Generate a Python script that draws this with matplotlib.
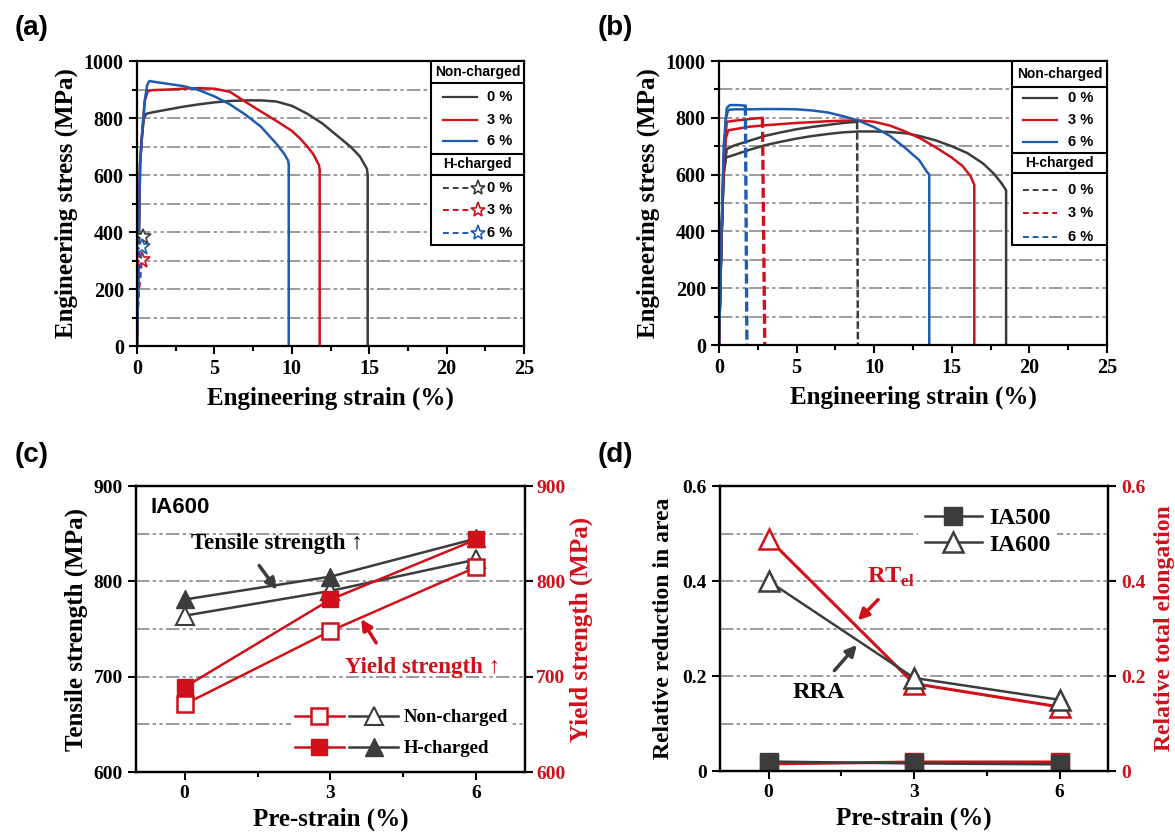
import matplotlib
matplotlib.use("Agg")
import matplotlib.pyplot as plt
from matplotlib.patches import Rectangle
from matplotlib.legend_handler import HandlerTuple
from matplotlib.ticker import MultipleLocator

# ---------------- data ----------------
# (a) stress-strain curves, non-charged
a_nc0_strain = [0, 0.2, 0.32, 0.45, 0.6, 1.0, 2, 3, 4, 5, 6, 7, 8, 9, 10, 11, 12, 13, 13.8, 14.4, 14.85, 14.9, 14.9]
a_nc0_stress = [0, 640, 735, 800, 815, 820, 830, 840, 848, 855, 860, 862, 862, 858, 843, 815, 780, 735, 699, 665, 622, 600, 0]
a_nc3_strain = [0, 0.2, 0.35, 0.5, 0.7, 1, 2, 3, 4, 5, 6, 7, 8, 9, 10, 10.5, 11, 11.4, 11.75, 11.8, 11.8]
a_nc3_stress = [0, 640, 760, 860, 895, 898, 900, 903, 905, 903, 892, 857, 823, 790, 755, 730, 700, 672, 635, 620, 0]
a_nc6_strain = [0, 0.2, 0.35, 0.5, 0.65, 0.8, 1.0, 2, 3, 4, 5, 6, 7, 8, 9, 9.5, 9.75, 9.8, 9.8]
a_nc6_stress = [0, 640, 760, 860, 915, 930, 928, 920, 912, 898, 876, 848, 812, 770, 710, 675, 652, 640, 0]
# (a) H-charged (fracture marked by star)
a_h_strain = [[0, 0.1, 0.4], [0, 0.1, 0.32], [0, 0.1, 0.32]]
a_h_stress = [[0, 200, 383], [0, 170, 301], [0, 190, 348]]

# (b) stress-strain curves, non-charged
b_nc0_strain = [0, 0.15, 0.3, 0.45, 1, 2, 3, 4, 5, 6, 7, 8, 9, 10, 11, 12, 13, 14, 15, 16, 17, 17.7, 18.2, 18.5, 18.5]
b_nc0_stress = [0, 350, 600, 660, 670, 688, 704, 716, 727, 736, 743, 749, 752, 752, 750, 746, 735, 720, 700, 676, 640, 604, 570, 545, 0]
b_nc3_strain = [0, 0.15, 0.3, 0.45, 0.6, 1, 2, 3, 4, 5, 6, 7, 8, 9, 10, 11, 12, 13, 14, 15, 15.7, 16.2, 16.45, 16.45]
b_nc3_stress = [0, 350, 620, 730, 756, 760, 769, 774, 778, 782, 785, 788, 790, 791, 786, 773, 752, 727, 695, 660, 630, 595, 565, 0]
b_nc6_strain = [0, 0.15, 0.3, 0.45, 0.6, 1, 2, 3, 4, 5, 6, 7, 8, 9, 10, 11, 12, 12.9, 13.4, 13.55, 13.55]
b_nc6_stress = [0, 350, 650, 800, 828, 830, 830, 831, 831, 830, 826, 819, 806, 790, 767, 737, 694, 651, 610, 600, 0]
# (b) H-charged
b_h0_strain = [0, 0.15, 0.3, 0.5, 1, 2, 3, 4, 5, 6, 7, 8, 8.9, 8.95]
b_h0_stress = [0, 350, 600, 690, 703, 720, 737, 749, 760, 768, 775, 782, 786, 0]
b_h3_strain = [0, 0.15, 0.3, 0.5, 1, 2, 2.8, 2.95]
b_h3_stress = [0, 350, 650, 786, 790, 796, 800, 0]
b_h6_strain = [0, 0.15, 0.3, 0.5, 0.7, 1.2, 1.7, 1.8]
b_h6_stress = [0, 350, 700, 835, 845, 845, 843, 0]

# (c) strengths of IA600 vs pre-strain
pre_strain = [0, 3, 6]
ts_non = [764, 790, 823]
ts_h = [781, 805, 845]
ys_non = [671, 748, 815]
ys_h = [689, 781, 844]

# (d) relative reductions
rra_ia500 = [0.02, 0.016, 0.014]
rra_ia600 = [0.40, 0.196, 0.150]
rtel_ia500 = [0.015, 0.019, 0.019]
rtel_ia600 = [0.489, 0.184, 0.135]

BLACK = "#3c3c3c"
RED = "#d0101a"
BLUE = "#1f5bb0"
GRID = "#8a8a8a"
GRID_LS = (0, (8, 2, 2, 2, 2, 2))
SANS = ["Liberation Sans", "DejaVu Sans"]

plt.rcParams["font.family"] = ["Liberation Serif", "DejaVu Serif"]
plt.rcParams["font.weight"] = "bold"
plt.rcParams["axes.labelweight"] = "bold"
plt.rcParams["mathtext.fontset"] = "custom"
plt.rcParams["mathtext.bf"] = "Liberation Serif:bold"
plt.rcParams["mathtext.rm"] = "Liberation Serif:bold"


def stress_axes(ax):
    ax.set_xlim(0, 25)
    ax.set_ylim(0, 1000)
    ax.set_xticks(range(0, 26, 5))
    ax.xaxis.set_minor_locator(MultipleLocator(2.5))
    ax.set_yticks(range(0, 1001, 200))
    ax.yaxis.set_minor_locator(MultipleLocator(100))
    ax.grid(axis="y", which="both", color=GRID, lw=1.2, ls=GRID_LS)
    ax.set_axisbelow(True)
    ax.tick_params(which="major", length=6, width=1.5, labelsize=14.5)
    ax.tick_params(which="minor", length=3.5, width=1.5)
    for s in ax.spines.values():
        s.set_linewidth(1.6)
    ax.set_xlabel("Engineering strain (%)", fontsize=18, labelpad=5)
    ax.set_ylabel("Engineering stress (MPa)", fontsize=18, labelpad=4)


def box_legend(ax, x0, bottom, divs, rows, line_x, text_x, stars):
    # white box with two titled sections, like the Origin legend
    tr = ax.transAxes
    ax.add_patch(Rectangle((x0, bottom), 1 - x0, 1 - bottom, transform=tr,
                           facecolor="white", edgecolor="black", lw=1.5, zorder=5))
    for d in divs:
        ax.plot([x0, 1], [d, d], color="black", lw=1.5, transform=tr, zorder=6)
    cx = (x0 + 1) / 2
    ax.text(cx, (1 + divs[0]) / 2, "Non-charged", transform=tr, ha="center", va="center",
            family=SANS, fontsize=10, zorder=7)
    ax.text(cx, (divs[1] + divs[2]) / 2, "H-charged", transform=tr, ha="center", va="center",
            family=SANS, fontsize=10, zorder=7)
    colors = [BLACK, RED, BLUE]
    labels = ["0 %", "3 %", "6 %"]
    for i in range(3):
        ax.plot(line_x, [rows[i]] * 2, color=colors[i], lw=1.6, transform=tr, zorder=7)
        ax.text(text_x, rows[i], labels[i], transform=tr, va="center", family=SANS,
                fontsize=10.5, zorder=7)
        y = rows[i + 3]
        if stars:
            ax.plot([line_x[0], line_x[1] - 0.02], [y, y], color=colors[i], lw=1.4,
                    ls=(0, (3, 2)), transform=tr, zorder=7)
            ax.plot([line_x[1] + 0.003], [y], marker="*", ms=11, mfc="white",
                    mec=colors[i], mew=1.2, transform=tr, zorder=8)
        else:
            ax.plot(line_x, [y, y], color=colors[i], lw=1.4, ls=(0, (3, 2)),
                    transform=tr, zorder=7)
        ax.text(text_x, y, labels[i], transform=tr, va="center", family=SANS,
                fontsize=10.5, zorder=7)


fig = plt.figure(figsize=(11.75, 8.34), dpi=100)

# ---------- (a) ----------
ax_a = fig.add_axes([0.1166, 0.5851, 0.3294, 0.3417])
stress_axes(ax_a)
ax_a.plot(a_nc0_strain, a_nc0_stress, color=BLACK, lw=1.8)
ax_a.plot(a_nc3_strain, a_nc3_stress, color=RED, lw=1.8)
ax_a.plot(a_nc6_strain, a_nc6_stress, color=BLUE, lw=1.8)
for xs, ys, c in zip(a_h_strain, a_h_stress, [BLACK, RED, BLUE]):
    ax_a.plot(xs, ys, color=c, lw=1.4, ls=(0, (3, 2)), marker="*", markevery=[-1],
              ms=12, mfc="white", mec=c, mew=1.2)
box_legend(ax_a, 0.76, 0.354, [0.923, 0.674, 0.600],
           [0.875, 0.793, 0.72, 0.554, 0.477, 0.398], [0.79, 0.879], 0.905, True)

# ---------- (b) ----------
ax_b = fig.add_axes([0.6119, 0.5863, 0.3302, 0.3405])
stress_axes(ax_b)
ax_b.plot(b_nc0_strain, b_nc0_stress, color=BLACK, lw=1.8)
ax_b.plot(b_nc3_strain, b_nc3_stress, color=RED, lw=1.8)
ax_b.plot(b_nc6_strain, b_nc6_stress, color=BLUE, lw=1.8)
for xs, ys, c, w in [(b_h0_strain, b_h0_stress, BLACK, 1.8),
                     (b_h3_strain, b_h3_stress, RED, 2.4),
                     (b_h6_strain, b_h6_stress, BLUE, 2.4)]:
    ax_b.plot(xs[:-1], ys[:-1], color=c, lw=1.8)
    ax_b.plot(xs[-2:], ys[-2:], color=c, lw=w, ls=(0, (3, 1.2)))
box_legend(ax_b, 0.755, 0.352, [0.908, 0.676, 0.606],
           [0.871, 0.792, 0.714, 0.546, 0.464, 0.381], [0.784, 0.871], 0.90, False)

# ---------- (c) ----------
ax_c = fig.add_axes([0.1157, 0.0743, 0.3311, 0.3429])
ax_c.set_xlim(-1, 7)
ax_c.set_ylim(600, 900)
ax_c.set_xticks(pre_strain)
ax_c.set_xticks([1.5, 4.5], minor=True)
ax_c.set_yticks([600, 700, 800, 900])
ax_c.set_yticks([650, 750, 850], minor=True)
ax_c.grid(axis="y", which="both", color=GRID, lw=1.2, ls=GRID_LS)
ax_c.set_axisbelow(True)
ax_c.tick_params(which="major", length=6, width=1.5, labelsize=14)
ax_c.tick_params(axis="y", which="minor", length=0)
ax_c.tick_params(axis="x", which="minor", length=3.5, width=1.5)
ln_tn, = ax_c.plot(pre_strain, ts_non, color=BLACK, lw=1.8, marker="^", ms=13,
                   mfc="white", mec=BLACK, mew=1.5, zorder=3)
ln_th, = ax_c.plot(pre_strain, ts_h, color=BLACK, lw=1.8, marker="^", ms=13, zorder=3)
ln_yn, = ax_c.plot(pre_strain, ys_non, color=RED, lw=1.8, marker="s", ms=11,
                   mfc="white", mec=RED, mew=1.8, zorder=4)
ln_yh, = ax_c.plot(pre_strain, ys_h, color=RED, lw=1.8, marker="s", ms=11, zorder=4)
ax_c.text(-0.7, 877, "IA600", family=SANS, fontsize=16, va="center")
ax_c.text(1.9, 840, "Tensile strength \u2191", fontsize=16.5, ha="center", va="center")
ax_c.text(4.9, 710, "Yield strength \u2191", fontsize=16.5, ha="center", va="center", color=RED)
ax_c.annotate("", xy=(1.93, 789), xytext=(1.5, 819),
              arrowprops=dict(arrowstyle="-|>", color=BLACK, lw=2.5, mutation_scale=16))
ax_c.annotate("", xy=(3.6, 763), xytext=(3.97, 733),
              arrowprops=dict(arrowstyle="-|>", color=RED, lw=2.5, mutation_scale=16))
ax_c.legend([(ln_yn, ln_tn), (ln_yh, ln_th)], ["Non-charged", "H-charged"],
            handler_map={tuple: HandlerTuple(ndivide=None, pad=0.3)},
            loc="lower right", bbox_to_anchor=(0.99, 0.005), handlelength=5.5,
            frameon=True, edgecolor="none", framealpha=1, fontsize=13.5,
            borderpad=0.2, labelspacing=0.75, handletextpad=0.3)
for s in ax_c.spines.values():
    s.set_linewidth(1.6)
ax_c.set_xlabel("Pre-strain (%)", fontsize=18, labelpad=4)
ax_c.set_ylabel("Tensile strength (MPa)", fontsize=18, labelpad=4)
ax_c2 = ax_c.twinx()
ax_c2.set_ylim(600, 900)
ax_c2.set_yticks([600, 700, 800, 900])
ax_c2.tick_params(axis="y", length=6, width=1.5, labelsize=14, labelcolor=RED, pad=2)
ax_c2.set_ylabel("Yield strength (MPa)", fontsize=18, color=RED, labelpad=3)
for s in ax_c2.spines.values():
    s.set_linewidth(1.6)

# ---------- (d) ----------
ax_d = fig.add_axes([0.6128, 0.0755, 0.3302, 0.3417])
ax_d.set_xlim(-1, 7)
ax_d.set_ylim(0, 0.6)
ax_d.set_xticks(pre_strain)
ax_d.set_xticks([1.5, 4.5], minor=True)
ax_d.set_yticks([0, 0.2, 0.4, 0.6], ["0", "0.2", "0.4", "0.6"])
ax_d.set_yticks([0.1, 0.3, 0.5], minor=True)
ax_d.grid(axis="y", which="both", color=GRID, lw=1.2, ls=GRID_LS)
ax_d.set_axisbelow(True)
ax_d.tick_params(which="major", length=6, width=1.5, labelsize=14)
ax_d.tick_params(axis="y", which="minor", length=0)
ax_d.tick_params(axis="x", which="minor", length=3.5, width=1.5)
ax_d.plot(pre_strain, rtel_ia500, color=RED, lw=2.2, marker="s", ms=13, zorder=3)
ax_d.plot(pre_strain, rtel_ia600, color=RED, lw=2.2, marker="^", ms=14,
          mfc="white", mec=RED, mew=1.8, zorder=3)
ln_500, = ax_d.plot(pre_strain, rra_ia500, color=BLACK, lw=1.8, marker="s", ms=13, zorder=4)
ln_600, = ax_d.plot(pre_strain, rra_ia600, color=BLACK, lw=1.8, marker="^", ms=14,
                    mfc="white", mec=BLACK, mew=1.8, zorder=4)
ax_d.text(2.52, 0.408, r"RT$_{\mathbf{el}}$", fontsize=17.5, color=RED, ha="center", va="center")
ax_d.text(1.03, 0.166, "RRA", fontsize=17.5, ha="center", va="center")
ax_d.annotate("", xy=(1.8, 0.313), xytext=(2.3, 0.365),
              arrowprops=dict(arrowstyle="-|>", color=RED, lw=2.5, mutation_scale=16))
ax_d.annotate("", xy=(1.86, 0.27), xytext=(1.32, 0.207),
              arrowprops=dict(arrowstyle="-|>", color=BLACK, lw=2.5, mutation_scale=16))
ax_d.legend([ln_500, ln_600], ["IA500", "IA600"], loc="upper right",
            bbox_to_anchor=(0.9, 0.99), handlelength=2.4, frameon=True,
            edgecolor="none", framealpha=1, fontsize=17, borderpad=0.3,
            labelspacing=0.2, handletextpad=0.3)
for s in ax_d.spines.values():
    s.set_linewidth(1.6)
ax_d.set_xlabel("Pre-strain (%)", fontsize=18, labelpad=4)
ax_d.set_ylabel("Relative reduction in area", fontsize=17, labelpad=6)
ax_d2 = ax_d.twinx()
ax_d2.set_ylim(0, 0.6)
ax_d2.set_yticks([0, 0.2, 0.4, 0.6], ["0", "0.2", "0.4", "0.6"])
ax_d2.tick_params(axis="y", length=6, width=1.5, labelsize=14, labelcolor=RED)
ax_d2.set_ylabel("Relative total elongation", fontsize=17, color=RED, labelpad=6)
for s in ax_d2.spines.values():
    s.set_linewidth(1.6)

# panel labels
for x, y, t in [(0.027, 0.966, "(a)"), (0.524, 0.966, "(b)"),
                (0.027, 0.454, "(c)"), (0.524, 0.454, "(d)")]:
    fig.text(x, y, t, family=SANS, fontsize=20, ha="center", va="center")

fig.savefig("out.png", dpi=100)
